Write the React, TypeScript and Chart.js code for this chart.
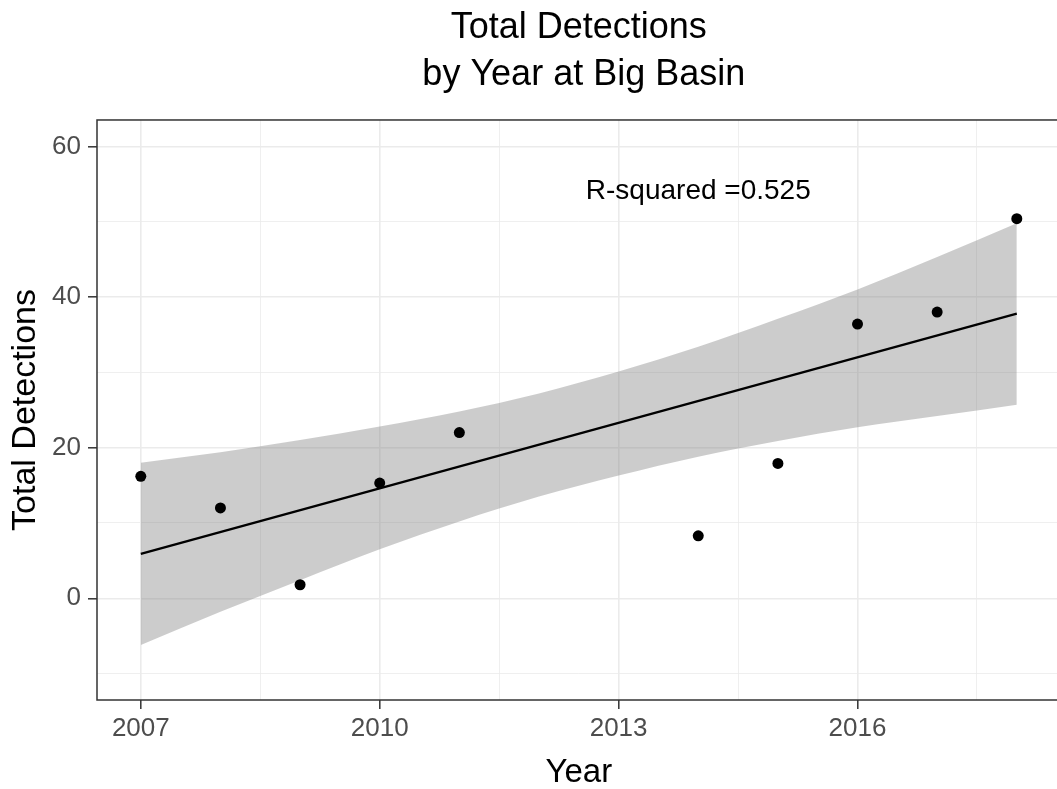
import React, { useEffect, useRef } from "react";
import { Chart, registerables } from "chart.js";

Chart.register(...registerables);

// ---- data ----
const years = [2007, 2008, 2009, 2010, 2011, 2014, 2015, 2016, 2017, 2018];
const detections = [16.2, 12.0, 1.8, 15.3, 22.0, 8.3, 17.9, 36.4, 38.0, 50.4];

const fitYears = [2007, 2018];
const fitValues = [5.9, 37.8];

const bandYears = [2007, 2008, 2009, 2010, 2011, 2012, 2013, 2014, 2015, 2016, 2017, 2018];
const bandUpper = [18.0, 19.4, 21.0, 22.8, 24.8, 27.2, 30.1, 33.4, 37.1, 41.0, 45.3, 49.8];
const bandLower = [-6.2, -1.8, 2.4, 6.5, 10.2, 13.5, 16.3, 18.8, 20.9, 22.7, 24.2, 25.7];

const xMajorTicks = [2007, 2010, 2013, 2016];
const yMajorTicks = [0, 20, 40, 60];

const titleLines = ["Total Detections", " by Year at Big Basin"];
const xTitle = "Year";
const yTitle = "Total Detections";
const annotationText = "R-squared =0.525";
const annotationX = 2014;
const annotationY = 54;

const FONT = "'Liberation Sans', Arial, Helvetica, sans-serif";

const isMajor = (v: number, list: number[]) => list.some((m) => Math.abs(m - v) < 1e-6);

const annotationPlugin = {
  id: "rsqAnnotation",
  afterDatasetsDraw(chart: any) {
    const { ctx, scales } = chart;
    const x = scales.x.getPixelForValue(annotationX);
    const y = scales.y.getPixelForValue(annotationY);
    ctx.save();
    ctx.font = `28px ${FONT}`;
    ctx.fillStyle = "#000000";
    ctx.textAlign = "center";
    ctx.textBaseline = "middle";
    ctx.fillText(annotationText, x, y);
    ctx.restore();
  },
};

const borderPlugin = {
  id: "panelBorder",
  afterDatasetsDraw(chart: any) {
    const { ctx, chartArea } = chart;
    ctx.save();
    ctx.strokeStyle = "#333333";
    ctx.lineWidth = 1.5;
    ctx.strokeRect(chartArea.left, chartArea.top, chartArea.right - chartArea.left, chartArea.bottom - chartArea.top);
    ctx.restore();
  },
};

export default function App() {
  const canvasRef = useRef<HTMLCanvasElement | null>(null);

  useEffect(() => {
    if (!canvasRef.current) return;
    const chart = new Chart(canvasRef.current, {
      type: "scatter",
      data: {
        datasets: [
          {
            label: "Detections",
            data: years.map((yr, i) => ({ x: yr, y: detections[i] })),
            backgroundColor: "#000000",
            borderWidth: 0,
            pointRadius: 5.5,
            showLine: false,
          },
          {
            label: "Fit",
            data: fitYears.map((yr, i) => ({ x: yr, y: fitValues[i] })),
            showLine: true,
            borderColor: "#000000",
            borderWidth: 2.3,
            pointRadius: 0,
            fill: false,
          },
          {
            label: "Upper",
            data: bandYears.map((yr, i) => ({ x: yr, y: bandUpper[i] })),
            showLine: true,
            borderColor: "rgba(0,0,0,0)",
            borderWidth: 0,
            pointRadius: 0,
            cubicInterpolationMode: "monotone",
            backgroundColor: "rgba(128,128,128,0.4)",
            fill: "+1",
          },
          {
            label: "Lower",
            data: bandYears.map((yr, i) => ({ x: yr, y: bandLower[i] })),
            showLine: true,
            borderColor: "rgba(0,0,0,0)",
            borderWidth: 0,
            pointRadius: 0,
            cubicInterpolationMode: "monotone",
            fill: false,
          },
        ],
      },
      options: {
        responsive: false,
        animation: false,
        devicePixelRatio: 1,
        layout: { padding: { left: 0, top: 0, right: 9.4, bottom: 0 } },
        plugins: {
          legend: { display: false },
          tooltip: { enabled: false },
          title: {
            display: true,
            text: titleLines,
            fullSize: false,
            color: "#000000",
            font: { family: FONT, size: 36, weight: "normal", lineHeight: 1.297 },
            padding: { top: 5, bottom: 21.6 },
          },
        },
        scales: {
          x: {
            type: "linear",
            min: 2006.45,
            max: 2018.55,
            afterFit: (scale: any) => {
              scale.height = 89;
            },
            border: { display: false },
            grid: {
              color: "#EBEBEB",
              lineWidth: (c: any) => (c.tick && isMajor(c.tick.value, xMajorTicks) ? 1.6 : 0.8),
              tickColor: (c: any) => (c.tick && isMajor(c.tick.value, xMajorTicks) ? "#333333" : "rgba(0,0,0,0)"),
              tickLength: 9,
              tickWidth: 1.5,
              drawTicks: true,
            },
            ticks: {
              stepSize: 1.5,
              includeBounds: false,
              autoSkip: false,
              maxRotation: 0,
              padding: 4.4,
              color: "#4D4D4D",
              font: { family: FONT, size: 26 },
              callback: (v: any) => (isMajor(Number(v), xMajorTicks) ? String(v) : ""),
            },
            title: {
              display: true,
              text: xTitle,
              color: "#000000",
              font: { family: FONT, size: 33, lineHeight: 1.0 },
              padding: { top: 0, bottom: 0 },
            },
          },
          y: {
            type: "linear",
            min: -13.5,
            max: 63.5,
            afterFit: (scale: any) => {
              scale.width = 97;
            },
            border: { display: false },
            grid: {
              color: "#EBEBEB",
              lineWidth: (c: any) => (c.tick && isMajor(c.tick.value, yMajorTicks) ? 1.6 : 0.8),
              tickColor: (c: any) => (c.tick && isMajor(c.tick.value, yMajorTicks) ? "#333333" : "rgba(0,0,0,0)"),
              tickLength: 9,
              tickWidth: 1.5,
              drawTicks: true,
            },
            ticks: {
              stepSize: 10,
              includeBounds: false,
              autoSkip: false,
              padding: 7,
              color: "#4D4D4D",
              font: { family: FONT, size: 26 },
              callback: (v: any) => (isMajor(Number(v), yMajorTicks) ? String(v) : ""),
            },
            title: {
              display: true,
              text: yTitle,
              color: "#000000",
              font: { family: FONT, size: 34, lineHeight: 1.2 },
              padding: { top: 5, bottom: 0 },
            },
          },
        },
      } as any,
      plugins: [annotationPlugin, borderPlugin],
    });
    return () => chart.destroy();
  }, []);

  return (
    <div style={{ position: "absolute", left: 0, top: 0, width: 1057, height: 789, overflow: "hidden", background: "#ffffff" }}>
      <canvas ref={canvasRef} width={1070} height={789} style={{ display: "block" }} />
    </div>
  );
}
